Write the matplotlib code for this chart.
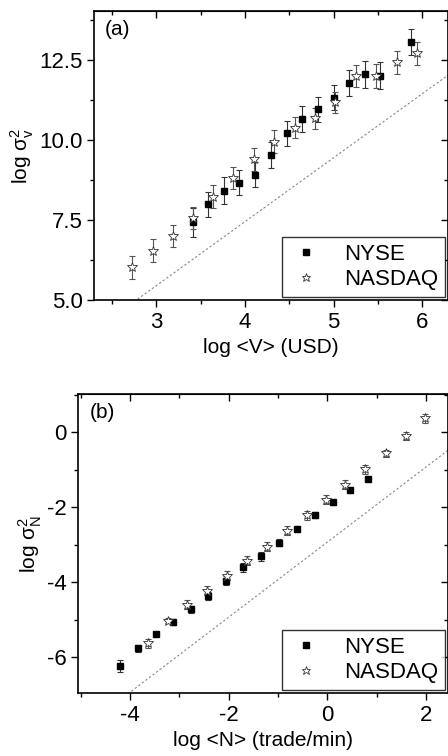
import matplotlib
matplotlib.use("Agg")
import matplotlib.pyplot as plt
import numpy as np
from matplotlib.ticker import MultipleLocator

plt.rcParams['font.family'] = ['Liberation Sans', 'DejaVu Sans']
plt.rcParams['mathtext.fontset'] = 'custom'
plt.rcParams['mathtext.rm'] = 'Liberation Sans'
plt.rcParams['mathtext.it'] = 'Liberation Sans:italic'
plt.rcParams['axes.unicode_minus'] = False

# ---- panel (a): volume ----
a_nyse_x = [3.41, 3.58, 3.76, 3.93, 4.11, 4.29, 4.47, 4.64, 4.82, 5.00, 5.17, 5.35, 5.52, 5.87]
a_nyse_y = [7.43, 7.99, 8.41, 8.67, 8.92, 9.53, 10.21, 10.66, 10.96, 11.33, 11.79, 12.06, 12.01, 13.07]
a_nyse_err = [0.45, 0.40, 0.42, 0.40, 0.38, 0.40, 0.40, 0.40, 0.40, 0.40, 0.40, 0.42, 0.42, 0.40]
a_nasdaq_x = [2.73, 2.96, 3.19, 3.41, 3.64, 3.87, 4.10, 4.33, 4.56, 4.79, 5.02, 5.25, 5.48, 5.71, 5.94]
a_nasdaq_y = [6.02, 6.54, 7.01, 7.57, 8.23, 8.82, 9.40, 9.95, 10.39, 10.68, 11.18, 12.00, 12.01, 12.43, 12.71]
a_nasdaq_err = [0.35, 0.36, 0.35, 0.35, 0.36, 0.35, 0.36, 0.35, 0.33, 0.33, 0.33, 0.35, 0.38, 0.37, 0.35]
a_ref_slope, a_ref_icpt = 2.0, -0.55

# ---- panel (b): number of trades ----
b_nyse_x = [-4.20, -3.84, -3.48, -3.12, -2.77, -2.41, -2.05, -1.70, -1.34, -0.97, -0.61, -0.24, 0.12, 0.46, 0.83]
b_nyse_y = [-6.23, -5.76, -5.38, -5.07, -4.72, -4.36, -3.96, -3.60, -3.30, -2.94, -2.59, -2.21, -1.86, -1.55, -1.24]
b_nyse_err = [0.16, 0.10, 0.06, 0.08, 0.10, 0.10, 0.12, 0.12, 0.12, 0.10, 0.08, 0.08, 0.07, 0.07, 0.06]
b_nasdaq_x = [-3.63, -3.24, -2.84, -2.43, -2.03, -1.63, -1.23, -0.82, -0.42, -0.02, 0.37, 0.77, 1.19, 1.59, 1.99]
b_nasdaq_y = [-5.63, -5.02, -4.60, -4.23, -3.83, -3.43, -3.05, -2.62, -2.21, -1.80, -1.40, -0.98, -0.56, -0.10, 0.37]
b_nasdaq_err = [0.12, 0.06, 0.12, 0.12, 0.12, 0.12, 0.12, 0.12, 0.12, 0.12, 0.12, 0.12, 0.10, 0.10, 0.12]
b_ref_slope, b_ref_icpt = 1.0, -2.93

fig = plt.figure(figsize=(4.48, 7.56), dpi=100)
ax1 = fig.add_axes([94.3/448, 1-300/756, (448-94.3)/448, (300-11.5)/756])
ax2 = fig.add_axes([78.3/448, 1-693/756, (448-78.3)/448, (693-394)/756])

FS_TICK = 16
FS_LAB = 15
FS_LEG = 16


def draw(ax, nx, ny, ne, qx, qy, qe, slope, icpt, xlim, ylim, xmaj, xmin, ymaj, ymin,
         xlabel, ylabel, tag):
    ax.set_xlim(*xlim)
    ax.set_ylim(*ylim)
    xs = np.array(xlim)
    ax.plot(xs, slope * xs + icpt, ls=(0, (2, 2)), color='#888888', lw=0.8, zorder=1)
    ax.errorbar(nx, ny, yerr=ne, fmt='none', ecolor='#333333', elinewidth=0.8,
                capsize=2.5, capthick=0.8, zorder=2)
    ax.errorbar(qx, qy, yerr=qe, fmt='none', ecolor='#555555', elinewidth=0.8,
                capsize=2.5, capthick=0.8, zorder=2)
    ax.plot(nx, ny, 's', color='black', ms=5, label='NYSE', zorder=3)
    ax.plot(qx, qy, '*', mfc='white', mec='#333333', mew=0.6, ms=7, label='NASDAQ', zorder=4)
    ax.xaxis.set_major_locator(MultipleLocator(xmaj))
    ax.xaxis.set_minor_locator(MultipleLocator(xmin))
    ax.yaxis.set_major_locator(MultipleLocator(ymaj))
    ax.yaxis.set_minor_locator(MultipleLocator(ymin))
    ax.tick_params(which='major', direction='out', length=5, width=1, labelsize=FS_TICK)
    ax.tick_params(which='minor', direction='out', length=3, width=1)
    for sp in ax.spines.values():
        sp.set_linewidth(1.2)
    sx = ax.secondary_xaxis('top')
    sx.xaxis.set_major_locator(MultipleLocator(xmaj))
    sx.xaxis.set_minor_locator(MultipleLocator(xmin))
    sx.tick_params(which='major', direction='in', length=5, width=1, labeltop=False)
    sx.tick_params(which='minor', direction='in', length=3, width=1)
    sy = ax.secondary_yaxis('right')
    sy.yaxis.set_major_locator(MultipleLocator(ymaj))
    sy.yaxis.set_minor_locator(MultipleLocator(ymin))
    sy.tick_params(which='major', direction='in', length=5, width=1, labelright=False)
    sy.tick_params(which='minor', direction='in', length=3, width=1)
    ax.set_xlabel(xlabel, fontsize=FS_LAB, labelpad=4)
    ax.set_ylabel(ylabel, fontsize=FS_LAB, labelpad=2)
    ax.text(0.03, 0.97, tag, transform=ax.transAxes, ha='left', va='top', fontsize=FS_LAB)
    leg = ax.legend(loc='lower right', fontsize=FS_LEG, frameon=True, fancybox=False,
                    borderaxespad=0.15, handletextpad=0.9, borderpad=0.3, labelspacing=0.2,
                    handlelength=1.6, markerscale=0.9)
    leg.get_frame().set_edgecolor('black')
    leg.get_frame().set_linewidth(1.0)


draw(ax1, a_nyse_x, a_nyse_y, a_nyse_err, a_nasdaq_x, a_nasdaq_y, a_nasdaq_err,
     a_ref_slope, a_ref_icpt, (2.3, 6.29), (5.0, 14.02), 1, 0.5, 2.5, 1.25,
     'log <V> (USD)', r'log σ$_\mathregular{v}^\mathregular{2}$', '(a)')
ax1.yaxis.set_major_formatter(matplotlib.ticker.FormatStrFormatter('%.1f'))
draw(ax2, b_nyse_x, b_nyse_y, b_nyse_err, b_nasdaq_x, b_nasdaq_y, b_nasdaq_err,
     b_ref_slope, b_ref_icpt, (-5.05, 2.45), (-6.95, 1.02), 2, 1, 2, 1,
     'log <N> (trade/min)', r'log σ$_\mathregular{N}^\mathregular{2}$', '(b)')

fig.savefig('out.png', dpi=100)
